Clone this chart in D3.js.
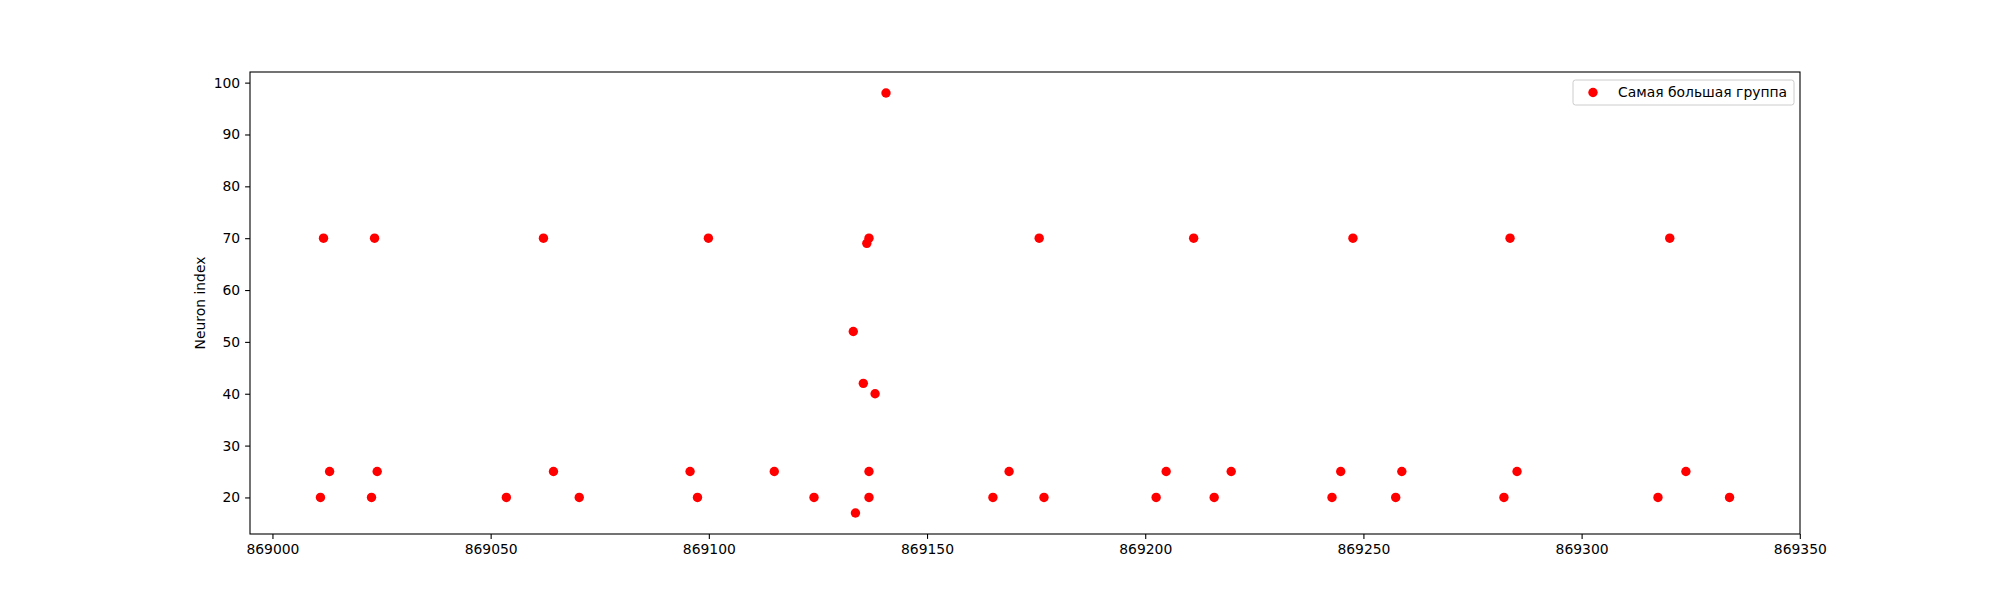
<!DOCTYPE html>
<html>
<head>
<meta charset="utf-8">
<script src="https://cdn.jsdelivr.net/npm/d3@7"></script>
<style>
  body { margin: 0; background: #fff; }
  svg text { font-family: "DejaVu Sans", sans-serif; }
</style>
</head>
<body>
<svg width="2000" height="600"></svg>
<script>
// spike times (x) and neuron indices (y) of the largest group
var times = [
  869011.0, 869011.7, 869013.1,
  869022.7, 869023.4, 869024.0,
  869053.6, 869062.1, 869064.4, 869070.3,
  869095.7, 869097.4, 869099.9,
  869115.0, 869124.1,
  869133.1, 869133.6, 869135.4, 869136.2, 869136.7, 869136.7, 869136.7, 869138.1, 869140.6,
  869165.1, 869168.8, 869175.7, 869176.8,
  869202.5, 869204.8, 869211.1, 869215.8, 869219.7,
  869242.8, 869244.8, 869247.6, 869257.4, 869258.8,
  869282.2, 869283.6, 869285.2,
  869317.5, 869320.2, 869323.9, 869333.9
];
var neurons = [
  20, 70, 25,
  20, 70, 25,
  20, 70, 25, 20,
  25, 20, 70,
  25, 20,
  52, 17, 42, 69, 70, 25, 20, 40, 98,
  20, 25, 70, 20,
  20, 25, 70, 20, 25,
  20, 25, 70, 20, 25,
  20, 70, 25,
  20, 70, 25, 20
];
var xTicks = [869000, 869050, 869100, 869150, 869200, 869250, 869300, 869350];
var yTicks = [20, 30, 40, 50, 60, 70, 80, 90, 100];
var seriesName = "Самая большая группа";

var svg = d3.select("svg"),
    margin = {top: 72, right: 200, bottom: 66, left: 250},
    width = +svg.attr("width") - margin.left - margin.right,
    height = +svg.attr("height") - margin.top - margin.bottom;

var data = times.map(function(t, i) { return {t: t, n: neurons[i]}; });

// matplotlib style 5% padding around the data
var xe = d3.extent(times), ye = d3.extent(neurons);
var xp = (xe[1] - xe[0]) * 0.05, yp = (ye[1] - ye[0]) * 0.05;

var x = d3.scaleLinear().domain([xe[0] - xp, xe[1] + xp]).range([0, width]);
var y = d3.scaleLinear().domain([ye[0] - yp, ye[1] + yp]).range([height, 0]);

var g = svg.append("g")
    .attr("transform", "translate(" + margin.left + "," + margin.top + ")");

var xAxis = g.append("g")
    .attr("transform", "translate(0," + height + ")")
    .call(d3.axisBottom(x).tickValues(xTicks).tickFormat(d3.format("d")).tickSizeInner(4.9).tickSizeOuter(0).tickPadding(4.9));

var yAxis = g.append("g")
    .call(d3.axisLeft(y).tickValues(yTicks).tickFormat(d3.format("d")).tickSizeInner(4.9).tickSizeOuter(0).tickPadding(4.9));

[xAxis, yAxis].forEach(function(a) {
  a.select(".domain").remove();
  a.selectAll("text").attr("font-size", "13.9px").attr("fill", "#000")
    .style("font-family", "DejaVu Sans, sans-serif");
  a.selectAll("line").attr("stroke", "#000").attr("stroke-width", 1.1);
});

// frame
g.append("rect")
    .attr("width", width)
    .attr("height", height)
    .attr("fill", "none")
    .attr("stroke", "#000")
    .attr("stroke-width", 1.1);

g.selectAll(".dot")
    .data(data)
    .enter().append("circle")
    .attr("class", "dot")
    .attr("cx", function(d) { return x(d.t); })
    .attr("cy", function(d) { return y(d.n); })
    .attr("r", 4.7)
    .attr("fill", "#ff0000");

svg.append("text")
    .attr("transform", "translate(" + 205 + "," + (margin.top + height / 2) + ") rotate(-90)")
    .attr("text-anchor", "middle")
    .attr("font-size", "13.9px")
    .text("Neuron index");

// legend
var leg = g.append("g")
    .attr("transform", "translate(" + (width - 227) + "," + 8 + ")");
leg.append("rect")
    .attr("width", 221)
    .attr("height", 25)
    .attr("rx", 2.5)
    .attr("fill", "#fff")
    .attr("fill-opacity", 0.8)
    .attr("stroke", "#cccccc")
    .attr("stroke-width", 1);
leg.append("circle")
    .attr("cx", 20)
    .attr("cy", 12.5)
    .attr("r", 4.7)
    .attr("fill", "#ff0000");
leg.append("text")
    .attr("x", 45)
    .attr("y", 12.5)
    .attr("dy", "0.35em")
    .attr("font-size", "13.9px")
    .text(seriesName);
</script>
</body>
</html>
